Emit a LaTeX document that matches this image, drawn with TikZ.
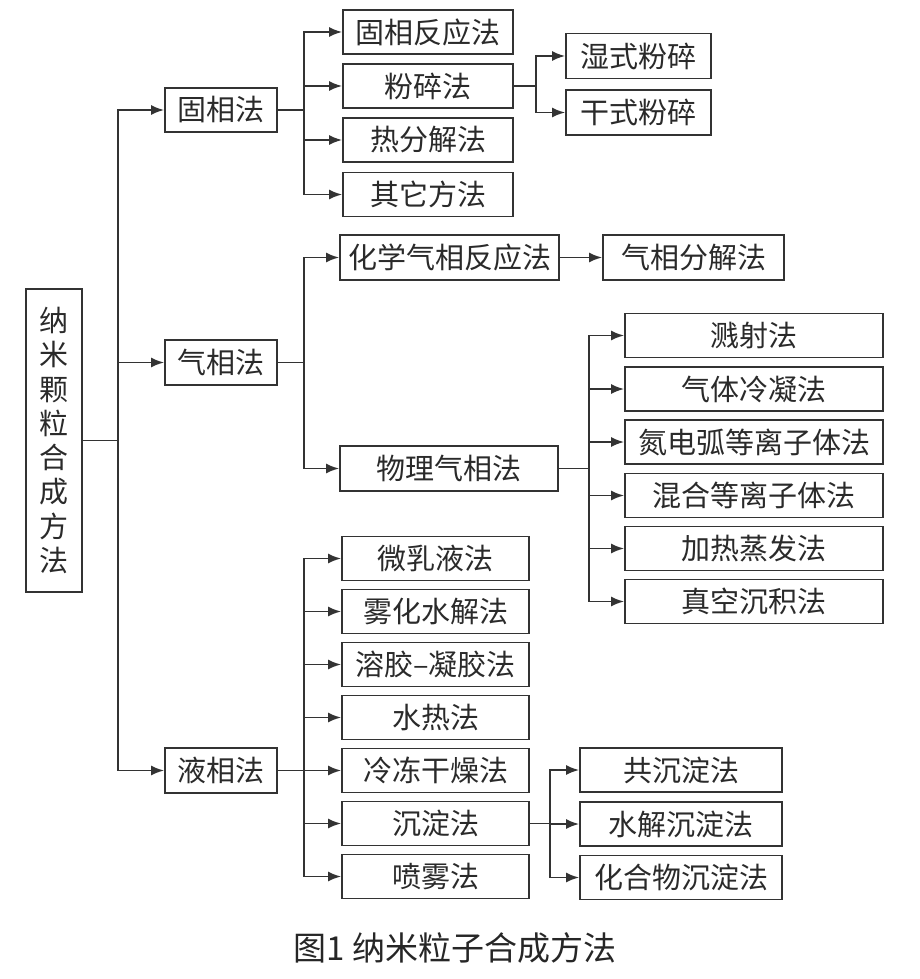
\documentclass[tikz,border=0pt]{standalone}
\usepackage{fontspec}
\newfontfamily\cjk{Noto Sans CJK SC}
\usetikzlibrary{arrows.meta}
\definecolor{ln}{HTML}{333333}
\definecolor{tx}{HTML}{2A2A2A}
\begin{document}
\begin{tikzpicture}[x=1pt,y=-1pt,
  box/.style={draw=ln, line width=1.8pt, inner sep=0pt, minimum height=44pt, text=tx,
    font=\cjk\fontsize{29}{30}\selectfont},
  conn/.style={draw=ln, line width=1.8pt},
  arr/.style={conn, -{Latex[length=13pt,width=10pt]}}]
\useasboundingbox (0,0) rectangle (919,979);
% root
\node[box, minimum width=56pt, minimum height=303pt, align=center,
  font=\cjk\fontsize{29}{34.3}\selectfont] (root) at (54,440.5)
  {纳\\米\\颗\\粒\\合\\成\\方\\法};
% level 1
\node[box, minimum width=112pt] (gu) at (221,110) {固相法};
\node[box, minimum width=112pt, minimum height=45pt] (qi) at (221,362.5) {气相法};
\node[box, minimum width=112pt, minimum height=45pt] (ye) at (221,770.5) {液相法};
% solid
\node[box, minimum width=170pt] (g1) at (428,32) {固相反应法};
\node[box, minimum width=170pt] (g2) at (428,86) {粉碎法};
\node[box, minimum width=170pt] (g3) at (428,140) {热分解法};
\node[box, minimum width=170pt] (g4) at (428,194.5) {其它方法};
\node[box, minimum width=145pt, minimum height=45pt] (g21) at (638.5,56) {湿式粉碎};
\node[box, minimum width=145pt, minimum height=45pt] (g22) at (638.5,112.5) {干式粉碎};
% gas
\node[box, minimum width=219pt, minimum height=45pt] (q1) at (449.5,257.5) {化学气相反应法};
\node[box, minimum width=181pt, minimum height=45pt] (q11) at (693.5,257.5) {气相分解法};
\node[box, minimum width=218pt, minimum height=45pt] (q2) at (449,468.5) {物理气相法};
\node[box, minimum width=258pt] (p1) at (754,335.5) {溅射法};
\node[box, minimum width=258pt] (p2) at (754,389) {气体冷凝法};
\node[box, minimum width=258pt] (p3) at (754,442) {氮电弧等离子体法};
\node[box, minimum width=258pt] (p4) at (754,495.5) {混合等离子体法};
\node[box, minimum width=258pt] (p5) at (754,548.5) {加热蒸发法};
\node[box, minimum width=258pt] (p6) at (754,601.5) {真空沉积法};
% liquid
\node[box, minimum width=187pt] (y1) at (435.5,558.5) {微乳液法};
\node[box, minimum width=187pt] (y2) at (435.5,611.5) {雾化水解法};
\node[box, minimum width=187pt] (y3) at (435.5,664.5) {溶胶–凝胶法};
\node[box, minimum width=187pt] (y4) at (435.5,717.5) {水热法};
\node[box, minimum width=187pt] (y5) at (435.5,770.5) {冷冻干燥法};
\node[box, minimum width=187pt] (y6) at (435.5,823.5) {沉淀法};
\node[box, minimum width=187pt] (y7) at (435.5,876.5) {喷雾法};
\node[box, minimum width=202pt] (c1) at (681,770) {共沉淀法};
\node[box, minimum width=202pt] (c2) at (681,824) {水解沉淀法};
\node[box, minimum width=202pt] (c3) at (681,877.5) {化合物沉淀法};
% caption
\node[font=\cjk\fontsize{33}{36}\selectfont, text=black!85, inner sep=0pt] (cap) at (455,948) {图1 纳米粒子合成方法};
% trunks
\coordinate (tr) at (118,440.5);
\coordinate (tg) at (304,110);
\coordinate (tg2) at (536,86);
\coordinate (tq) at (304,362.5);
\coordinate (tp) at (589,468.5);
\coordinate (ty) at (304,770.5);
\coordinate (tc) at (550,823.5);
% root connectors
\draw[conn] (root.east) -- (tr);
\draw[arr] (tr) |- (gu.west);
\draw[arr] (tr) |- (qi.west);
\draw[arr] (tr) |- (ye.west);
% solid connectors
\draw[conn] (gu.east) -- (tg);
\foreach \n in {g1,g2,g3,g4} \draw[arr] (tg) |- (\n.west);
\draw[conn] (g2.east) -- (tg2);
\foreach \n in {g21,g22} \draw[arr] (tg2) |- (\n.west);
% gas connectors
\draw[conn] (qi.east) -- (tq);
\foreach \n in {q1,q2} \draw[arr] (tq) |- (\n.west);
\draw[arr] (q1.east) -- (q11.west);
\draw[conn] (q2.east) -- (tp);
\foreach \n in {p1,p2,p3,p4,p5,p6} \draw[arr] (tp) |- (\n.west);
% liquid connectors
\draw[conn] (ye.east) -- (ty);
\foreach \n in {y1,y2,y3,y4,y5,y6,y7} \draw[arr] (ty) |- (\n.west);
\draw[conn] (y6.east) -- (tc);
\foreach \n in {c1,c2,c3} \draw[arr] (tc) |- (\n.west);
\end{tikzpicture}
\end{document}
